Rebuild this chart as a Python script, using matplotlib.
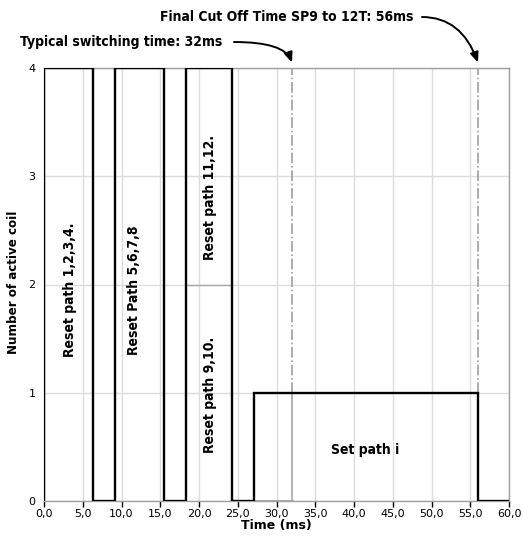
import matplotlib
matplotlib.use("Agg")
import matplotlib.pyplot as plt

# step profile: number of active coils over time
edges = [0, 6.3, 9.2, 15.5, 18.3, 24.3, 27.1, 56.0, 60.0]
levels = [4, 0, 4, 0, 4, 0, 1, 0]

switch_time = 32.0
cutoff_time = 56.0

x_ticks = [0, 5, 10, 15, 20, 25, 30, 35, 40, 45, 50, 55, 60]
y_ticks = [0, 1, 2, 3, 4]

labels = [
    ("Reset path 1,2,3,4.", 3.4, 1.95, 90),
    ("Reset Path 5,6,7,8", 11.6, 1.95, 90),
    ("Reset path 11,12.", 21.4, 2.8, 90),
    ("Reset path 9,10.", 21.4, 0.98, 90),
    ("Set path i", 41.4, 0.47, 0),
]

bold_font = dict(family=["Liberation Sans Narrow", "DejaVu Sans"], weight="bold", stretch="condensed")
grid_c = "#dcdcdc"
frame_c = "#a0a0a0"

fig = plt.figure(figsize=(5.23, 5.42), dpi=100)
ax = fig.add_axes([44 / 523, 41 / 542, 465 / 523, 433 / 542])

ax.set_xlim(0, 60)
ax.set_ylim(0, 4)
ax.set_xticks(x_ticks)
ax.set_xticklabels(["{:.1f}".format(v).replace(".", ",") for v in x_ticks])
ax.set_yticks(y_ticks)
ax.tick_params(axis="x", length=4, width=1, color="black", labelsize=8, pad=2)
ax.tick_params(axis="y", length=0, labelsize=8, pad=6)
for t in ax.get_xticklabels() + ax.get_yticklabels():
    t.set_family("DejaVu Sans")

ax.grid(True, color=grid_c, lw=1)
ax.set_axisbelow(True)
for s in ax.spines.values():
    s.set_color(frame_c)
    s.set_linewidth(1)

# darker split line between the two reset groups and the switching marker
ax.plot([edges[4], edges[5]], [2, 2], color="#a8a8a8", lw=1)
ax.plot([edges[6], switch_time], [0, 0], color="#a0a0a0", lw=2)
ax.plot([switch_time, switch_time], [0, 1], color="#a8a8a8", lw=1.2)
ax.plot([switch_time, switch_time], [1, 4], color="#a0a0a0", lw=1.2, ls="-.")
ax.plot([cutoff_time, cutoff_time], [1, 4], color="#a0a0a0", lw=1.2, ls="-.")

ax.stairs(levels, edges, baseline=0, color="black", lw=1.7, zorder=5)

for txt, x, y, rot in labels:
    ax.text(x, y, txt, rotation=rot, ha="center", va="center", fontsize=10, **bold_font)

ax.set_xlabel("Time (ms)", fontsize=9, fontfamily="DejaVu Sans", fontweight="bold", labelpad=0)
ax.set_ylabel("Number of active coil", fontsize=9.5, **bold_font)
ax.yaxis.set_label_coords(-0.052, 0.505)

# call-outs above the plot
fig.text(20 / 523, 500 / 542, "Typical switching time: 32ms", ha="left", va="center", fontsize=10, **bold_font)
fig.text(160 / 523, 525 / 542, "Final Cut Off Time SP9 to 12T: 56ms", ha="left", va="center", fontsize=10, **bold_font)

arrow = dict(arrowstyle="-|>,head_length=0.6,head_width=0.25", color="black", lw=1.4,
             shrinkA=0, shrinkB=0, connectionstyle="angle3,angleA=0,angleB=-70")
ax.annotate("", xy=(switch_time, 4.05), xycoords="data",
            xytext=(234, 500), textcoords="figure pixels",
            arrowprops=arrow, annotation_clip=False)
ax.annotate("", xy=(cutoff_time, 4.05), xycoords="data",
            xytext=(422, 525), textcoords="figure pixels",
            arrowprops=arrow, annotation_clip=False)

fig.savefig("out.png", dpi=100)
